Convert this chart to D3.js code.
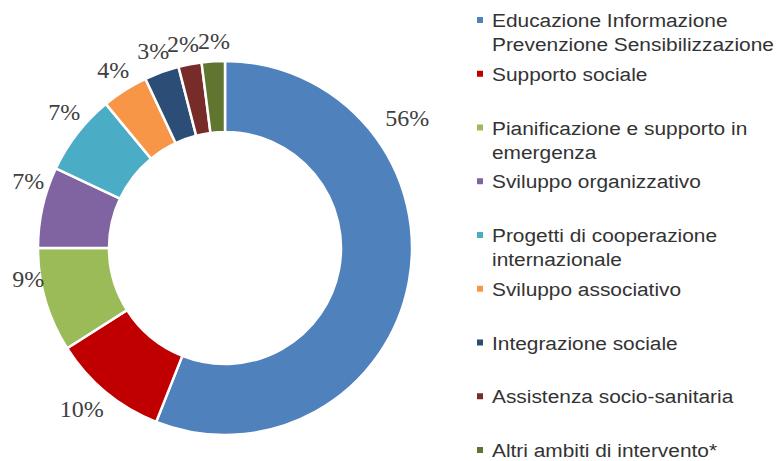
<!DOCTYPE html>
<html>
<head>
<meta charset="utf-8">
<script src="https://cdn.jsdelivr.net/npm/d3@7"></script>
<style>
  body { margin: 0; background: #fff; }
</style>
</head>
<body>
<div id="chart"></div>
<script>
// data
var categories = [
    ["Educazione Informazione", "Prevenzione Sensibilizzazione"],
    ["Supporto sociale"],
    ["Pianificazione e supporto in", "emergenza"],
    ["Sviluppo organizzativo"],
    ["Progetti di cooperazione", "internazionale"],
    ["Sviluppo associativo"],
    ["Integrazione sociale"],
    ["Assistenza socio-sanitaria"],
    ["Altri ambiti di intervento*"]
];
var values = [56, 10, 9, 7, 7, 4, 3, 2, 2];
var colors = ["#4F81BD", "#C00000", "#9BBB59", "#8064A2", "#4BACC6",
              "#F79646", "#2C4D75", "#772C2A", "#5F7530"];

// layout: where each % label sits, as [fraction along its slice, radius]
// (the original labels were nudged by hand, not at the exact mid angle)
var labelLayout = [[0.27, 224], [0.56, 215], [0.73, 199], [0.75, 208], [0.6, 211],
                   [0.53, 211], [0.48, 210], [0.39, 209], [0.58, 208]];

var width = 781, height = 461;
var cx = 225, cy = 248,
    outerR = 187, innerR = 116;

var svg = d3.select("#chart")
    .append("svg")
    .attr("width", width)
    .attr("height", height);

var pie = d3.pie().sort(null).value(function (d) { return d; });
var arcs = pie(values);

var arc = d3.arc()
    .innerRadius(innerR)
    .outerRadius(outerR);

var g = svg.append("g")
    .attr("transform", "translate(" + cx + "," + cy + ")");

g.selectAll(".slice")
    .data(arcs)
    .enter().append("path")
    .attr("class", "slice")
    .attr("d", arc)
    .attr("fill", function (d, i) { return colors[i]; })
    .attr("stroke", "#fff")
    .attr("stroke-width", 2.5);

function labelAngle(d, i) {
    return d.startAngle + labelLayout[i][0] * (d.endAngle - d.startAngle);
}

g.selectAll(".pct")
    .data(arcs)
    .enter().append("text")
    .attr("class", "pct")
    .attr("x", function (d, i) { return labelLayout[i][1] * Math.sin(labelAngle(d, i)); })
    .attr("y", function (d, i) { return -labelLayout[i][1] * Math.cos(labelAngle(d, i)); })
    .attr("dy", "0.36em")
    .attr("text-anchor", "middle")
    .style("font-family", "'Liberation Serif', serif")
    .style("font-size", "24px")
    .style("fill", "#404040")
    .text(function (d) { return d.data + "%"; });

// legend
var legendY = d3.scaleLinear().domain([0, categories.length - 1]).range([27, 457]);

var legend = svg.selectAll(".legend")
    .data(categories)
    .enter().append("g")
    .attr("class", "legend")
    .attr("transform", function (d, i) { return "translate(477," + legendY(i) + ")"; });

legend.append("rect")
    .attr("x", 0)
    .attr("y", -10)
    .attr("width", 6)
    .attr("height", 6)
    .attr("fill", function (d, i) { return colors[i]; });

// text in the original is a bit wider than Arial, so stretch it horizontally
legend.append("text")
    .attr("transform", "translate(15,0) scale(1.16,1)")
    .style("font-family", "'Liberation Sans', Arial, sans-serif")
    .style("font-size", "18px")
    .style("fill", "#333")
    .selectAll("tspan")
    .data(function (d) { return d; })
    .enter().append("tspan")
    .attr("x", 0)
    .attr("y", function (d, j) { return j * 24.5; })
    .text(function (d) { return d; });
</script>
</body>
</html>
